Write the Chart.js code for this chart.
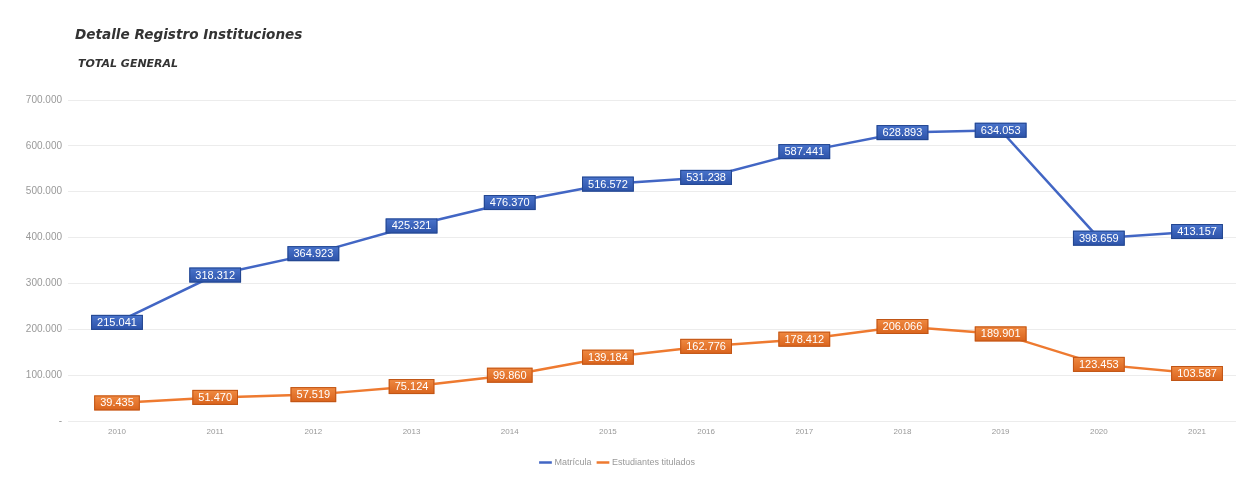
<!DOCTYPE html>
<html>
<head>
<meta charset="utf-8">
<script src="https://cdn.jsdelivr.net/npm/chart.js@4/dist/chart.umd.min.js"></script>
<style>
    html, body { margin: 0; padding: 0; background: #fff; }
    #wrap { position: relative; width: 1238px; height: 477px; }
    #chart { position: absolute; left: 0; top: 0; }
    .titulo { position: absolute; font-family: "DejaVu Sans", sans-serif; font-weight: bold; font-style: italic; color: #333; }
</style>
</head>
<body>
<div id="wrap">
    <canvas id="chart" width="1238" height="477"></canvas>
    <div class="titulo" style="left:75px; top:26px; font-size:13.6px;">Detalle Registro Instituciones</div>
    <div class="titulo" style="left:78px; top:57px; font-size:11px;">TOTAL GENERAL</div>
</div>
<script>
// años
const anios = ['2010', '2011', '2012', '2013', '2014', '2015', '2016', '2017', '2018', '2019', '2020', '2021'];

// series
const matricula = [215041, 318312, 364923, 425321, 476370, 516572, 531238, 587441, 628893, 634053, 398659, 413157];
const titulados = [39435, 51470, 57519, 75124, 99860, 139184, 162776, 178412, 206066, 189901, 123453, 103587];

// ticks eje y
const ticksY = [0, 100000, 200000, 300000, 400000, 500000, 600000, 700000];

// formato con punto de miles
function formato(v) {
    if (v === 0) return '-';
    return String(Math.round(v)).replace(/\B(?=(\d{3})+(?!\d))/g, '.');
}

// etiquetas de datos en cajas
const etiquetas = {
    id: 'etiquetas',
    afterDatasetsDraw(chart) {
        const ctx = chart.ctx;
        ctx.save();
        ctx.font = '11px "Liberation Sans", sans-serif';
        ctx.textAlign = 'center';
        ctx.textBaseline = 'middle';
        chart.data.datasets.forEach((ds, i) => {
            const meta = chart.getDatasetMeta(i);
            meta.data.forEach((pt, j) => {
                const txt = formato(ds.data[j].y);
                const w = ctx.measureText(txt).width + 12;
                const h = 15;
                const x = pt.x - w / 2;
                const y = pt.y - h / 2;
                const grad = ctx.createLinearGradient(0, y, 0, y + h);
                grad.addColorStop(0, ds.cajaClara);
                grad.addColorStop(1, ds.cajaOscura);
                ctx.fillStyle = grad;
                ctx.fillRect(x, y, w, h);
                ctx.strokeStyle = ds.cajaBorde;
                ctx.lineWidth = 1;
                ctx.strokeRect(x + 0.5, y + 0.5, w - 1, h - 1);
                ctx.fillStyle = '#fff';
                ctx.fillText(txt, pt.x, pt.y + 0.5);
            });
        });
        ctx.restore();
    }
};

new Chart(document.getElementById('chart'), {
    type: 'line',
    data: {
        datasets: [{
            label: 'Matrícula',
            data: anios.map((a, i) => ({ x: Number(a), y: matricula[i] })),
            borderColor: '#4266c4',
            backgroundColor: '#4266c4',
            borderWidth: 2.5,
            pointRadius: 0,
            tension: 0,
            cajaClara: '#4a74cc',
            cajaOscura: '#2c52a8',
            cajaBorde: '#23468f'
        }, {
            label: 'Estudiantes titulados',
            data: anios.map((a, i) => ({ x: Number(a), y: titulados[i] })),
            borderColor: '#ee7a30',
            backgroundColor: '#ee7a30',
            borderWidth: 2.5,
            pointRadius: 0,
            tension: 0,
            cajaClara: '#f08a42',
            cajaOscura: '#d9631c',
            cajaBorde: '#c05516'
        }]
    },
    options: {
        responsive: false,
        animation: false,
        layout: { padding: { top: 100, right: 2, left: 0, bottom: 0 } },
        plugins: {
            legend: {
                position: 'bottom',
                labels: {
                    usePointStyle: true,
                    pointStyle: 'line',
                    boxWidth: 30,
                    padding: 7,
                    color: '#999',
                    font: { family: '"Liberation Sans", sans-serif', size: 9 }
                }
            },
            tooltip: { enabled: false }
        },
        scales: {
            x: {
                type: 'linear',
                min: 2009.501,
                max: 2021.397,
                afterBuildTicks: s => { s.ticks = anios.map(a => ({ value: Number(a) })); },
                afterFit: s => { s.height = 30; },
                grid: { display: false, drawTicks: false },
                border: { display: false },
                ticks: {
                    callback: v => String(v),
                    color: '#999',
                    padding: 6,
                    maxRotation: 0,
                    font: { family: '"Liberation Sans", sans-serif', size: 8 }
                }
            },
            y: {
                min: 0,
                max: 700000,
                afterBuildTicks: s => { s.ticks = ticksY.map(v => ({ value: v })); },
                afterFit: s => { s.width = 68; },
                grid: { color: '#ececec', drawTicks: false },
                border: { display: false },
                ticks: {
                    callback: v => formato(v),
                    color: '#999',
                    padding: 6,
                    font: { family: '"Liberation Sans", sans-serif', size: 10 }
                }
            }
        }
    },
    plugins: [etiquetas]
});
</script>
</body>
</html>
